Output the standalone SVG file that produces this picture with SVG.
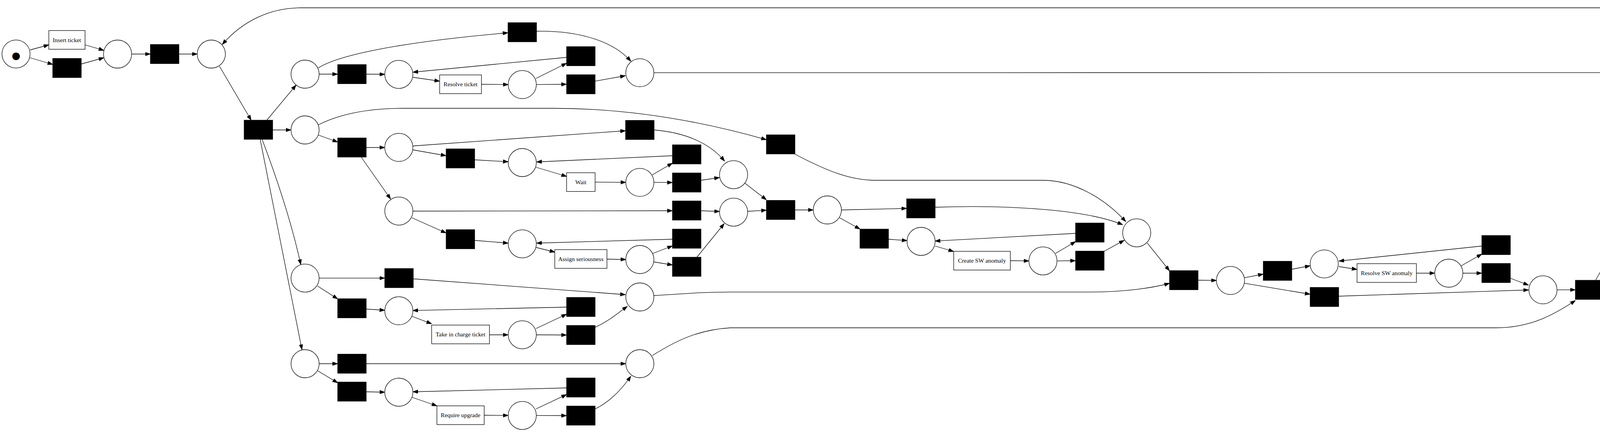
<svg xmlns="http://www.w3.org/2000/svg" width="5572" height="1107" viewBox="0 0 5572 1107">
<style>
.pl{fill:#fff;stroke:#000;stroke-width:1.3}
.tau{fill:#000;stroke:#000;stroke-width:1.3}
.tr{fill:#fff;stroke:#000;stroke-width:1.3}
.lb{font-family:"Liberation Serif","Times New Roman",serif;font-size:15.3px;text-anchor:middle;fill:#000}
.tok{font-family:"Liberation Serif","Times New Roman",serif;text-anchor:middle;fill:#000}
.e{fill:none;stroke:#000;stroke-width:1.3;marker-end:url(#ah)}
</style>
<defs>
<marker id="ah" markerUnits="userSpaceOnUse" markerWidth="14" markerHeight="10" refX="13.3" refY="4.7" orient="auto">
<path d="M0,0 L13.3,4.7 L0,9.4 Z" fill="#000" stroke="#000" stroke-width="1"/>
</marker>
</defs>
<rect width="5572" height="1107" fill="#fff"/>
<g id="edges">
<path class="e" d="M77,128 L125,115"/>
<path class="e" d="M77,148 L135,165"/>
<path class="e" d="M218,115 L266,129"/>
<path class="e" d="M208,164 L266,148"/>
<path class="e" d="M337,138.5 L385,138.5"/>
<path class="e" d="M458,138.5 L505,138.5"/>
<path class="e" d="M562,170 L643,308"/>
<path class="e" d="M683,308 L758,218"/>
<path class="e" d="M698,333 L745,333"/>
<path class="e" d="M671,357 Q740,540 770,678"/>
<path class="e" d="M666,357 L773,896"/>
<path class="e" d="M817,190 L864.5,190"/>
<path class="e" d="M815,174 C860,145 1000,110 1300.5,84"/>
<path class="e" d="M815,346 L864.5,364"/>
<path class="e" d="M815,320 C870,292 940,278 1030,277.5 L1420,277.5 C1650,278 1850,326 1962,358"/>
<path class="e" d="M817,712.6 L985,712.6"/>
<path class="e" d="M813,733 L864.5,766"/>
<path class="e" d="M817,932 L864.5,932"/>
<path class="e" d="M813,950 L864.5,981"/>
<path class="e" d="M937.5,190 L985,190.5"/>
<path class="e" d="M937.5,378 L985,378"/>
<path class="e" d="M925,403 L1000,510"/>
<path class="e" d="M937.5,792 L985,795"/>
<path class="e" d="M937.5,932 L1602,932"/>
<path class="e" d="M937.5,1004 L985,1005"/>
<path class="e" d="M1373.5,80 C1480,78 1570,105 1615,157"/>
<path class="e" d="M1057,198 L1125.5,208"/>
<path class="e" d="M1232.5,216 L1301,216.7"/>
<path class="e" d="M1372,201 L1450.5,162"/>
<path class="e" d="M1373,216.7 L1450.5,216"/>
<path class="e" d="M1450.5,147 L1057,185"/>
<path class="e" d="M1523.5,208 L1601,194"/>
<path class="e" d="M1674,186.4 L4883,186"/>
<path class="e" d="M1057,374 L1601.5,335"/>
<path class="e" d="M1057,384 L1142,399"/>
<path class="e" d="M1215,409.5 L1301,414.5"/>
<path class="e" d="M1372,428.5 L1450.5,452"/>
<path class="e" d="M1523.5,466.6 L1602,467.3"/>
<path class="e" d="M1670,448 L1721.5,418"/>
<path class="e" d="M1674,467.4 L1721.5,467.7"/>
<path class="e" d="M1721.5,399 L1373.5,415"/>
<path class="e" d="M1794.5,462 L1842,455"/>
<path class="e" d="M1674.5,333 C1760,340 1820,370 1855,413"/>
<path class="e" d="M1057,541 L1721.5,540"/>
<path class="e" d="M1054.5,558 L1142,597"/>
<path class="e" d="M1215,616 L1301,623"/>
<path class="e" d="M1372,634 L1420.5,646"/>
<path class="e" d="M1554,664 L1602,665"/>
<path class="e" d="M1671,649.5 L1721.5,630"/>
<path class="e" d="M1673,671 L1721.5,679"/>
<path class="e" d="M1721.5,613 L1373.5,623"/>
<path class="e" d="M1784,659 L1854,573"/>
<path class="e" d="M1794.5,540 L1842,542"/>
<path class="e" d="M1907,469.5 L1962,512"/>
<path class="e" d="M1914,541.5 L1962,538.7"/>
<path class="e" d="M2035,538 L2082,538"/>
<path class="e" d="M2154,538 L2321,534"/>
<path class="e" d="M2149,557.7 L2201.5,587"/>
<path class="e" d="M2274.5,613 L2322,616.5"/>
<path class="e" d="M2394,630.5 L2441.5,644.5"/>
<path class="e" d="M2586.5,668 L2634,668.6"/>
<path class="e" d="M2702,649.5 L2753.5,619"/>
<path class="e" d="M2706,668.6 L2753.5,668"/>
<path class="e" d="M2753.5,598 L2394,617.7"/>
<path class="e" d="M2826.5,644 L2878,615.6"/>
<path class="e" d="M2394,531 C2600,524 2790,540 2874,576"/>
<path class="e" d="M2035,395 C2120,440 2180,462 2240,462 L2670,462 C2750,462 2830,510 2882,568"/>
<path class="e" d="M2937,622.7 L2994,694"/>
<path class="e" d="M3067,718 L3114,718.7"/>
<path class="e" d="M1674,757.5 C1760,752 1800,748.4 1870,748.4 L2790,748.4 C2880,748 2950,738 2994,726"/>
<path class="e" d="M3186,711.6 L3234,702.5"/>
<path class="e" d="M3186,725.8 L3354,754"/>
<path class="e" d="M3307,690 L3354,681"/>
<path class="e" d="M3427.5,683 L3474,690.5"/>
<path class="e" d="M3626,700 L3673,700"/>
<path class="e" d="M3741,681 L3793.5,651"/>
<path class="e" d="M3745,700 L3793.5,700"/>
<path class="e" d="M3793.5,630.5 L3427.5,669"/>
<path class="e" d="M3866.5,713 L3913,730.7"/>
<path class="e" d="M3427,759 L3913,743"/>
<path class="e" d="M3986,742.7 L4033,742.7"/>
<path class="e" d="M1670,911 C1720,880 1780,845 1870,840 L3830,840 C3920,840 3980,805 4033,770"/>
<path class="e" d="M4084.7,718.2 L4169,568"/>
<path class="e" d="M4221,515 C4250,500 4270,490 4290,484 C4400,450 4520,438 4634,438"/>
<path class="e" d="M4224.6,533 L4273,526"/>
<path class="e" d="M4225,545.7 L4428,584.6"/>
<path class="e" d="M4380,517.5 L4466.5,514"/>
<path class="e" d="M4539,512 L4625.5,512"/>
<path class="e" d="M4707,452 L4763.6,469.5"/>
<path class="e" d="M4715.5,500 L4763.6,490.7"/>
<path class="e" d="M4577.5,586 C4640,576 4720,555 4773,507"/>
<path class="e" d="M4815,447.6 L4907.6,210.5"/>
<path class="e" d="M4956,182 L5004,177"/>
<path class="e" d="M5072,154 L5123.5,124"/>
<path class="e" d="M5076,173 L5123.5,173"/>
<path class="e" d="M5196.5,100.5 L5243.5,101"/>
<path class="e" d="M5196.5,150 L5247,120"/>
<path class="e" d="M5311,82.6 L5363,51"/>
<path class="e" d="M5315.5,101 L5363,100.5"/>
<path class="e" d="M5436,100.5 L5483.5,101"/>
<path class="e" d="M5363,27 C5250,21 5150,20 5100,20 L771,20 C690,20 620,55 569,114"/>
<path class="e" d="M1054.5,810.5 L1105,829.6"/>
<path class="e" d="M1253,858 L1301,858"/>
<path class="e" d="M1372,842 L1450.5,805"/>
<path class="e" d="M1373,858 L1450.5,858.5"/>
<path class="e" d="M1450.5,787 L1057,795.7"/>
<path class="e" d="M1523.5,838.7 C1560,822 1585,800 1606,785"/>
<path class="e" d="M1058,714.5 L1601,755"/>
<path class="e" d="M1054.5,1018 L1118.5,1040"/>
<path class="e" d="M1239.5,1064 L1301,1064.6"/>
<path class="e" d="M1372,1048 L1450.5,1011"/>
<path class="e" d="M1373,1064.6 L1450.5,1065"/>
<path class="e" d="M1450.5,994 L1057,1004"/>
<path class="e" d="M1523.5,1048 C1560,1030 1590,1000 1615,964"/>
</g>
<g id="p0"><circle class="pl" cx="41" cy="138.3" r="36"/><text class="tok" x="41" y="157" font-size="45">●</text></g>
<g id="p1"><circle class="pl" cx="301" cy="138.5" r="36"/></g>
<g id="p2"><circle class="pl" cx="541" cy="138.5" r="36"/></g>
<g id="p3"><circle class="pl" cx="781" cy="190" r="36"/></g>
<g id="p4"><circle class="pl" cx="781" cy="333" r="36"/></g>
<g id="p5"><circle class="pl" cx="781" cy="712.6" r="36"/></g>
<g id="p6"><circle class="pl" cx="781" cy="932" r="36"/></g>
<g id="p7"><circle class="pl" cx="1021" cy="190.6" r="36"/></g>
<g id="p8"><circle class="pl" cx="1337" cy="216.7" r="36"/></g>
<g id="p9"><circle class="pl" cx="1638" cy="186.4" r="36"/></g>
<g id="p10"><circle class="pl" cx="1021" cy="377.7" r="36"/></g>
<g id="p11"><circle class="pl" cx="1337" cy="416.5" r="36"/></g>
<g id="p12"><circle class="pl" cx="1638" cy="467.4" r="36"/></g>
<g id="p13"><circle class="pl" cx="1878" cy="447.6" r="36"/></g>
<g id="p14"><circle class="pl" cx="1021" cy="540.8" r="36"/></g>
<g id="p15"><circle class="pl" cx="1337" cy="624.8" r="36"/></g>
<g id="p16"><circle class="pl" cx="1638" cy="665" r="36"/></g>
<g id="p17"><circle class="pl" cx="1878" cy="543.6" r="36"/></g>
<g id="p18"><circle class="pl" cx="1638" cy="761" r="36"/></g>
<g id="p19"><circle class="pl" cx="1021" cy="796.4" r="36"/></g>
<g id="p20"><circle class="pl" cx="1337" cy="857.8" r="36"/></g>
<g id="p21"><circle class="pl" cx="1638" cy="932" r="36"/></g>
<g id="p22"><circle class="pl" cx="1021" cy="1005" r="36"/></g>
<g id="p23"><circle class="pl" cx="1337" cy="1064.6" r="36"/></g>
<g id="p24"><circle class="pl" cx="2118" cy="538" r="36"/></g>
<g id="p25"><circle class="pl" cx="2358" cy="618.5" r="36"/></g>
<g id="p26"><circle class="pl" cx="2670" cy="668.6" r="36"/></g>
<g id="p27"><circle class="pl" cx="2910" cy="596.6" r="36"/></g>
<g id="p28"><circle class="pl" cx="3150" cy="718.7" r="36"/></g>
<g id="p29"><circle class="pl" cx="3390" cy="676.3" r="36"/></g>
<g id="p30"><circle class="pl" cx="3709" cy="700" r="36"/></g>
<g id="p31"><circle class="pl" cx="3950" cy="742.7" r="36"/></g>
<g id="p32"><circle class="pl" cx="4190" cy="536.6" r="36"/></g>
<g id="p33"><circle class="pl" cx="4503" cy="512" r="36"/></g>
<g id="p34"><circle class="pl" cx="4800" cy="482" r="36"/></g>
<g id="p35"><circle class="pl" cx="5040" cy="173" r="36"/></g>
<g id="p36"><circle class="pl" cx="5279.5" cy="101" r="36"/></g>
<g id="p37"><circle class="pl" cx="5525" cy="101.3" r="41.5"/><circle class="pl" cx="5525" cy="101.3" r="36"/><text class="tok" x="5525" y="117" font-size="42.7">■</text></g>
<g id="t_insert"><rect class="tr" x="125" y="78.3" width="92.7" height="48"/><text class="lb" x="171.3" y="107.6">Insert ticket</text></g>
<g id="t_resolve"><rect class="tr" x="1125.5" y="192" width="107" height="48"/><text class="lb" x="1179" y="221.3">Resolve ticket</text></g>
<g id="t_wait"><rect class="tr" x="1450.5" y="442.6" width="73" height="48"/><text class="lb" x="1487" y="471.9">Wait</text></g>
<g id="t_assign"><rect class="tr" x="1420.25" y="639.6" width="133.5" height="48"/><text class="lb" x="1487" y="668.9">Assign seriousness</text></g>
<g id="t_take"><rect class="tr" x="1105" y="833" width="148" height="48"/><text class="lb" x="1179" y="862.3">Take in charge ticket</text></g>
<g id="t_require"><rect class="tr" x="1118.5" y="1040" width="121" height="48"/><text class="lb" x="1179" y="1069.3">Require upgrade</text></g>
<g id="t_createsw"><rect class="tr" x="2441.5" y="644" width="145" height="48"/><text class="lb" x="2514" y="673.3">Create SW anomaly</text></g>
<g id="t_resolvesw"><rect class="tr" x="3474" y="675.6" width="152" height="48"/><text class="lb" x="3550" y="704.9">Resolve SW anomaly</text></g>
<g id="t_duplicate"><rect class="tr" x="4273.1" y="497" width="107" height="48"/><text class="lb" x="4326.6" y="526.3">DUPLICATE</text></g>
<g id="t_verified"><rect class="tr" x="4625.5" y="487.9" width="90" height="48"/><text class="lb" x="4670.5" y="517.2">VERIFIED</text></g>
<g id="t_schedule"><rect class="tr" x="4428" y="572" width="149.5" height="48"/><text class="lb" x="4502.8" y="601.3">Schedule intervention</text></g>
<g id="t_closed"><rect class="tr" x="5123.5" y="149" width="73" height="48"/><text class="lb" x="5160" y="178.3">Closed</text></g>
<g id="t_skip0"><rect class="tau" x="135" y="149.8" width="73" height="49"/></g>
<g id="t1"><rect class="tau" x="385" y="114" width="73" height="49"/></g>
<g id="t_fork"><rect class="tau" x="625" y="308" width="73" height="49"/></g>
<g id="t2"><rect class="tau" x="864.5" y="165.5" width="73" height="49"/></g>
<g id="t3"><rect class="tau" x="864.5" y="353.5" width="73" height="49"/></g>
<g id="t4"><rect class="tau" x="864.5" y="765.5" width="73" height="49"/></g>
<g id="t5"><rect class="tau" x="864.5" y="907.5" width="73" height="49"/></g>
<g id="t6"><rect class="tau" x="864.5" y="979" width="73" height="49"/></g>
<g id="t7"><rect class="tau" x="1300.5" y="58.1" width="73" height="49"/></g>
<g id="t8"><rect class="tau" x="1450.5" y="119.5" width="73" height="49"/></g>
<g id="t9"><rect class="tau" x="1450.5" y="191.5" width="73" height="49"/></g>
<g id="t10"><rect class="tau" x="1601.5" y="308.5" width="73" height="49"/></g>
<g id="t11"><rect class="tau" x="1142.1" y="381.5" width="73" height="49"/></g>
<g id="t12"><rect class="tau" x="1721.5" y="371.1" width="73" height="49"/></g>
<g id="t13"><rect class="tau" x="1721.5" y="443.2" width="73" height="49"/></g>
<g id="t14"><rect class="tau" x="1721.5" y="515" width="73" height="49"/></g>
<g id="t15"><rect class="tau" x="1142.1" y="588.5" width="73" height="49"/></g>
<g id="t16"><rect class="tau" x="1721.5" y="587.1" width="73" height="49"/></g>
<g id="t17"><rect class="tau" x="1721.5" y="659.1" width="73" height="49"/></g>
<g id="t18"><rect class="tau" x="985" y="688.1" width="73" height="49"/></g>
<g id="t19"><rect class="tau" x="1450.5" y="762.1" width="73" height="49"/></g>
<g id="t20"><rect class="tau" x="1450.5" y="834" width="73" height="49"/></g>
<g id="t21"><rect class="tau" x="1450.5" y="968.5" width="73" height="49"/></g>
<g id="t22"><rect class="tau" x="1450.5" y="1040.5" width="73" height="49"/></g>
<g id="t23"><rect class="tau" x="1962" y="345.5" width="73" height="49"/></g>
<g id="t24"><rect class="tau" x="1962" y="513.5" width="73" height="49"/></g>
<g id="t25"><rect class="tau" x="2321" y="509.5" width="73" height="49"/></g>
<g id="t26"><rect class="tau" x="2201.5" y="587.1" width="73" height="49"/></g>
<g id="t27"><rect class="tau" x="2753.5" y="571.5" width="73" height="49"/></g>
<g id="t28"><rect class="tau" x="2753.5" y="643.5" width="73" height="49"/></g>
<g id="t29"><rect class="tau" x="2994" y="693.5" width="73" height="49"/></g>
<g id="t30"><rect class="tau" x="3234" y="669.5" width="73" height="49"/></g>
<g id="t31"><rect class="tau" x="3354" y="736.5" width="73" height="49"/></g>
<g id="t32"><rect class="tau" x="3793.5" y="603.5" width="73" height="49"/></g>
<g id="t33"><rect class="tau" x="3793.5" y="675.1" width="73" height="49"/></g>
<g id="t34"><rect class="tau" x="4033" y="718.2" width="73" height="49"/></g>
<g id="t35"><rect class="tau" x="4634" y="415" width="73" height="49"/></g>
<g id="t36"><rect class="tau" x="4883" y="161.5" width="73" height="49"/></g>
<g id="t37"><rect class="tau" x="5123.5" y="76" width="73" height="49"/></g>
<g id="t38"><rect class="tau" x="5363" y="4.1" width="73" height="49"/></g>
<g id="t39"><rect class="tau" x="5363" y="76" width="73" height="49"/></g>
</svg>
